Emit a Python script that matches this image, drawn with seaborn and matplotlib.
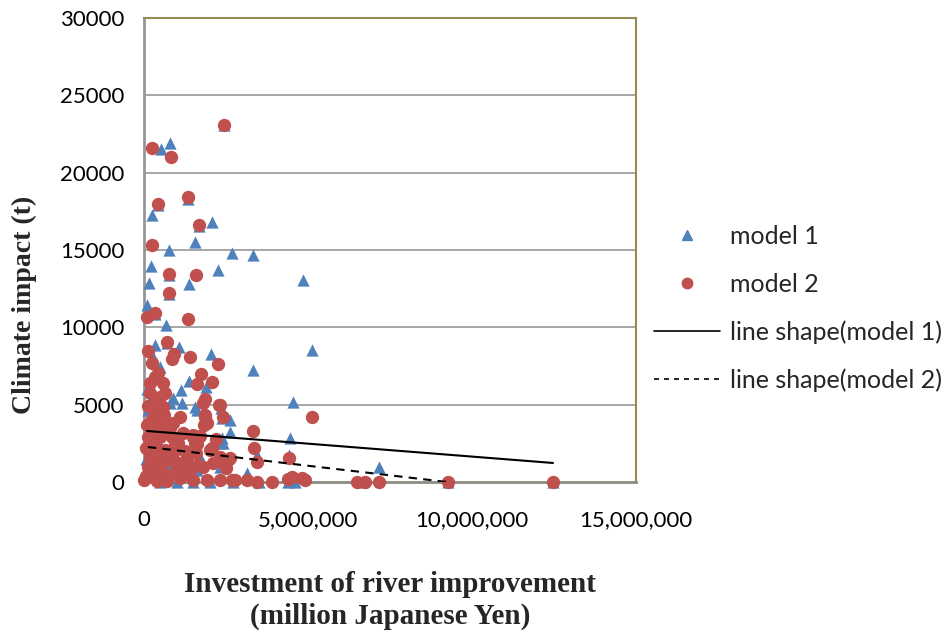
import matplotlib
matplotlib.use("Agg")
import matplotlib.pyplot as plt
from matplotlib.lines import Line2D
from matplotlib.ticker import FuncFormatter
import seaborn as sns
import pandas as pd

# ---- data: investment (yen) vs climate impact (t) ----
model1_x = [2440000, 520000, 790000, 1340000, 430000, 240000, 1680000, 2070000,
            1550000, 760000, 2680000, 3320000, 210000, 760000, 2260000, 150000,
            1370000, 760000, 90000, 340000, 670000, 4850000, 5120000, 3320000,
            4540000, 4450000, 700000, 340000, 1070000, 2040000, 490000, 1370000,
            1890000, 1130000, 880000, 1160000, 1620000, 2350000, 2620000, 2620000,
            2380000, 2320000, 3140000, 7160000, 9270000, 12470000, 6650000, 4420000,
            3440000, 1550000, 790000, 2380000, 2410000, 1710000, 730000, 1620000,
            2320000, 430000, 120000, 270000, 150000, 500000, 1000000, 1500000,
            2000000, 2700000, 3500000, 4400000, 4600000, 100000, 300000, 60000]
model1_y = [23080, 21530, 21920, 18300, 17900, 17260, 16550, 16810,
            15520, 15000, 14800, 14680, 13970, 13400, 13710, 12870,
            12800, 12150, 11440, 10850, 10150, 13060, 8540, 7240,
            5170, 2840, 9000, 8860, 8730, 8280, 7440, 6530,
            6140, 5950, 5430, 5110, 4660, 4780, 4010, 3230,
            2840, 2520, 580, 970, 0, 0, 0, 1750,
            1750, 4850, 5110, 4140, 2520, 1620, 1100, 780,
            970, 2590, 4660, 8080, 3000, 0, 0, 0,
            0, 0, 0, 0, 0, 6000, 2000, 1500]

model2_x = [2440000, 240000, 820000, 1340000, 430000, 1680000, 240000, 760000,
            1590000, 760000, 340000, 90000, 1340000, 700000, 120000, 910000,
            850000, 1400000, 2260000, 240000, 340000, 1740000, 2070000, 1620000,
            180000, 640000, 1860000, 2290000, 5120000, 3320000, 3350000, 4420000,
            3440000, 1860000, 2410000, 1830000, 1490000, 2070000, 1620000, 2320000,
            2620000, 2410000, 6500000, 6750000, 7160000, 9270000, 12470000,
            430000, 180000, 580000, 490000, 240000, 580000, 120000, 400000,
            620000, 240000, 1100000, 880000, 90000, 490000, 1860000, 1920000,
            1800000, 2320000, 120000, 490000, 850000, 1490000, 1550000, 1040000,
            180000, 550000, 880000, 1310000, 2010000, 2320000, 2560000, 120000,
            490000, 1010000, 1400000, 1800000, 270000, 700000, 1100000, 1490000,
            1920000, 2320000, 2680000, 0, 2770000, 3140000, 3440000, 3900000,
            4390000, 4510000, 4820000, 4910000, 300000, 600000, 800000, 1200000,
            1700000, 2200000, 50000, 350000, 650000, 950000, 1250000, 1600000,
            2100000, 2500000, 200000, 450000, 750000, 1050000, 1350000, 1650000,
            300000, 650000, 1000000, 1350000, 60000, 400000, 700000, 150000]
model2_y = [23080, 21600, 21010, 18430, 17980, 16620, 15320, 13450,
            13380, 12220, 10930, 10670, 10540, 9050, 8470, 8280,
            7950, 8080, 7630, 7690, 6790, 6980, 6470, 6340,
            5760, 5760, 5370, 4980, 4200, 3300, 2200, 1550,
            1290, 4200, 4200, 3690, 2910, 2200, 2460, 1420,
            1550, 1290, 0, 0, 0, 0, 0,
            7050, 6400, 6400, 5500, 4980, 4850, 4900, 4500,
            4300, 4100, 4200, 3810, 3690, 3810, 4330, 3810,
            5110, 4980, 2910, 2910, 2910, 3040, 2520, 2520,
            1620, 1750, 1880, 1550, 2070, 1620, 1420, 970,
            900, 970, 780, 970, 320, 260, 260, 130,
            130, 130, 130, 150, 130, 130, 0, 0,
            200, 300, 250, 100, 3400, 3300, 3500, 3200,
            3000, 2800, 2200, 2300, 2100, 2400, 2000, 1900,
            1200, 900, 1100, 1300, 1400, 1200, 1000, 1100,
            600, 500, 700, 500, 400, 50, 50, 650]

# fitted line shapes
shape_x1 = [90000, 12470000]
shape_y1 = [3300, 1230]
shape_x2 = [120000, 9240000]
shape_y2 = [2260, 0]

x_ticks = [0, 5000000, 10000000, 15000000]
y_ticks = [0, 5000, 10000, 15000, 20000, 25000, 30000]

BLUE = "#4F81BD"
RED = "#C0504D"

df = pd.DataFrame({
    "x": model1_x + model2_x,
    "y": model1_y + model2_y,
    "model": ["model 1"] * len(model1_x) + ["model 2"] * len(model2_x),
})

sns.set_theme(style="white")
plt.rcParams["font.family"] = ["Lato", "DejaVu Sans"]

fig = plt.figure(figsize=(9.52, 6.33), dpi=100)
ax = fig.add_axes([144 / 952, 1 - 482 / 633, (636 - 144) / 952, (482 - 18) / 633])

for v in y_ticks[1:-1]:
    ax.axhline(v, color="#A6A6A6", lw=1.4, zorder=0)

sns.scatterplot(data=df[df.model == "model 1"], x="x", y="y", marker="^",
                color=BLUE, s=78, linewidth=0, ax=ax, clip_on=False, zorder=3,
                legend=False)
sns.scatterplot(data=df[df.model == "model 2"], x="x", y="y", marker="o",
                color=RED, s=92, linewidth=0, ax=ax, clip_on=False, zorder=4,
                legend=False)
sns.lineplot(x=shape_x1, y=shape_y1, color="black", lw=1.5, ax=ax, zorder=5)
sns.lineplot(x=shape_x2, y=shape_y2, color="black", lw=1.5, ax=ax, zorder=5,
             linestyle=(0, (4, 3)))

ax.set_xlim(0, 15000000)
ax.set_ylim(0, 30000)
ax.set_xticks(x_ticks)
ax.set_yticks(y_ticks)
ax.xaxis.set_major_formatter(FuncFormatter(lambda v, p: f"{int(v):,}"))
ax.tick_params(axis="both", length=0, labelsize=16, colors="black")
ax.tick_params(axis="x", pad=20)
ax.tick_params(axis="y", pad=14)

for side in ["top", "right"]:
    ax.spines[side].set_color("#948A54")
    ax.spines[side].set_linewidth(1.5)
ax.spines["left"].set_color("#969696")
ax.spines["left"].set_linewidth(2)
ax.spines["bottom"].set_color("#8C8C84")
ax.spines["bottom"].set_linewidth(2)

serif = ["Liberation Serif", "DejaVu Serif"]
ax.set_ylabel("Climate impact (t)", fontsize=20, fontweight="bold", family=serif)
ax.yaxis.label.set_va("center")
ax.yaxis.set_label_coords(-0.244, 0.381)
ax.set_xlabel("Investment of river improvement\n(million Japanese Yen)",
              fontsize=21, fontweight="bold", family=serif, linespacing=1.25)
ax.xaxis.label.set_va("center")
ax.xaxis.set_label_coords(0.5, -0.255)

handles = [
    Line2D([], [], marker="^", color=BLUE, linestyle="none", markersize=7.5),
    Line2D([], [], marker="o", color=RED, linestyle="none", markersize=7.5),
    Line2D([], [], color="black", lw=1.2),
    Line2D([], [], color="black", lw=1.2, linestyle=(0, (3, 3))),
]
labels = ["model 1", "model 2", "line shape(model 1)", "line shape(model 2)"]
fig.legend(handles, labels, loc="upper left",
           bbox_to_anchor=(654 / 952, 1 - 225 / 633),
           frameon=False, fontsize=18, handlelength=2.64, handletextpad=0.4,
           labelspacing=0.98, borderaxespad=0, borderpad=0)

fig.savefig("out.png", dpi=100)
